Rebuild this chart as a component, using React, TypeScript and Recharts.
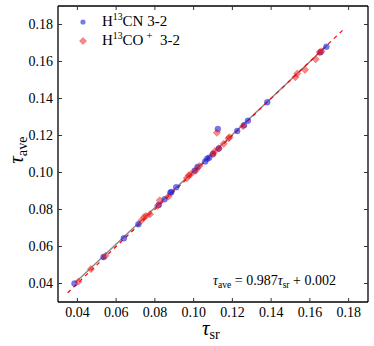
import { ScatterChart, Scatter, XAxis, YAxis, ReferenceLine } from "recharts"

// H13CN 3-2 (blue circles)
const hcnSr = [0.0385, 0.0535, 0.064, 0.0715, 0.082, 0.085, 0.088, 0.0885, 0.091, 0.1005, 0.102, 0.106, 0.107, 0.108, 0.11, 0.1125, 0.113, 0.1225, 0.126, 0.128, 0.138, 0.1655, 0.1685]
const hcnAve = [0.04, 0.0543, 0.0645, 0.072, 0.0825, 0.0855, 0.089, 0.0895, 0.092, 0.101, 0.103, 0.106, 0.1075, 0.108, 0.11, 0.1235, 0.113, 0.1225, 0.1255, 0.128, 0.138, 0.165, 0.168]

// H13CO+ 3-2 (red diamonds)
const hcoSr = [0.0405, 0.047, 0.0545, 0.073, 0.0745, 0.0755, 0.0775, 0.0815, 0.0825, 0.087, 0.0965, 0.0975, 0.0985, 0.101, 0.103, 0.11, 0.111, 0.112, 0.113, 0.1155, 0.118, 0.1185, 0.1255, 0.1525, 0.1535, 0.1575, 0.163, 0.165, 0.166]
const hcoAve = [0.041, 0.0478, 0.055, 0.074, 0.076, 0.0765, 0.0775, 0.082, 0.085, 0.087, 0.097, 0.0985, 0.099, 0.101, 0.1035, 0.11, 0.1115, 0.1215, 0.113, 0.1155, 0.1185, 0.119, 0.125, 0.1515, 0.1535, 0.1555, 0.1612, 0.165, 0.1655]

// fit line (grey) and one-to-one line (red dashed), endpoints
const fitSr = [0.039, 0.169]
const fitAve = [0.0405, 0.1688]
const unitLine = [0.035, 0.178]

const ticks = [0.04, 0.06, 0.08, 0.1, 0.12, 0.14, 0.16, 0.18]
const domain: [number, number] = [0.03, 0.19]

const hcn = hcnSr.map((x, i) => ({ x, y: hcnAve[i] }))
const hco = hcoSr.map((x, i) => ({ x, y: hcoAve[i] }))

const serif = "Liberation Serif, serif"
const tickFont = { fontFamily: serif, fontSize: 14, fill: "#000" }
const fmt = (v: number) => v.toFixed(2)
const frame = { stroke: "#000", strokeWidth: 1.3 }
const tickStroke = { stroke: "#333" }

const Dot = (props: any) => (
  <circle cx={props.cx} cy={props.cy} r={3} fill="#2020e0" fillOpacity={0.6} stroke="#2020c0" strokeOpacity={0.4} strokeWidth={0.6} />
)

const Diamond = (props: any) => {
  const { cx, cy } = props
  const s = 3.6
  return (
    <polygon
      points={`${cx},${cy - s} ${cx + s},${cy} ${cx},${cy + s} ${cx - s},${cy}`}
      fill="#ff1010"
      fillOpacity={0.5}
      stroke="#b00000"
      strokeOpacity={0.45}
      strokeWidth={0.6}
    />
  )
}

const Nothing = () => <g />

const sub = { fontSize: "0.68em", fontStyle: "normal", verticalAlign: "-0.3em", lineHeight: 0 } as const

export default function App() {
  return (
    <div style={{ position: "absolute", left: 0, top: 0, width: 374, height: 346, background: "#fff" }}>
      <ScatterChart width={374} height={346} margin={{ top: 1, right: 1, left: 0, bottom: 0 }}>
        <XAxis
          xAxisId="b"
          type="number"
          dataKey="x"
          domain={domain}
          ticks={ticks}
          tickFormatter={fmt}
          height={44}
          tickSize={-4}
          tickMargin={9}
          tick={tickFont}
          axisLine={frame}
          tickLine={tickStroke}
          allowDataOverflow
        />
        <XAxis
          xAxisId="t"
          orientation="top"
          type="number"
          dataKey="x"
          domain={domain}
          ticks={ticks}
          height={5}
          tickSize={-4}
          tick={Nothing}
          axisLine={frame}
          tickLine={tickStroke}
          allowDataOverflow
        />
        <YAxis
          yAxisId="l"
          type="number"
          dataKey="y"
          domain={domain}
          ticks={ticks}
          tickFormatter={fmt}
          width={58}
          tickSize={-4}
          tickMargin={9}
          tick={tickFont}
          axisLine={frame}
          tickLine={tickStroke}
          allowDataOverflow
        />
        <YAxis
          yAxisId="r"
          orientation="right"
          type="number"
          dataKey="y"
          domain={domain}
          ticks={ticks}
          width={5}
          tickSize={-4}
          tick={Nothing}
          axisLine={frame}
          tickLine={tickStroke}
          allowDataOverflow
        />
        {/* invisible series so the top / right frame axes get drawn */}
        <Scatter xAxisId="t" yAxisId="r" data={hcn} shape={Nothing} isAnimationActive={false} />
        <ReferenceLine
          xAxisId="b"
          yAxisId="l"
          segment={[{ x: fitSr[0], y: fitAve[0] }, { x: fitSr[1], y: fitAve[1] }]}
          stroke="#888"
          strokeWidth={1.5}
        />
        <Scatter xAxisId="b" yAxisId="l" data={hcn} shape={Dot} isAnimationActive={false} />
        <Scatter xAxisId="b" yAxisId="l" data={hco} shape={Diamond} isAnimationActive={false} />
        <ReferenceLine
          xAxisId="b"
          yAxisId="l"
          segment={[{ x: unitLine[0], y: unitLine[0] }, { x: unitLine[1], y: unitLine[1] }]}
          stroke="#ff0000"
          strokeWidth={1.2}
          strokeDasharray="4 4"
        />
      </ScatterChart>

      {/* legend */}
      <div style={{ position: "absolute", left: 76, top: 12, fontFamily: serif, fontSize: 15, lineHeight: "19px", color: "#000" }}>
        <div style={{ display: "flex", alignItems: "center" }}>
          <svg width={14} height={19}>
            <circle cx={7} cy={10} r={2.6} fill="#2020e0" fillOpacity={0.6} />
          </svg>
          <span style={{ marginLeft: 12 }}>
            H<sup style={{ fontSize: "0.65em", lineHeight: 0 }}>13</sup>CN 3-2
          </span>
        </div>
        <div style={{ display: "flex", alignItems: "center" }}>
          <svg width={14} height={19}>
            <polygon points="7,6.5 10.5,10 7,13.5 3.5,10" fill="#ff1010" fillOpacity={0.5} stroke="#b00000" strokeOpacity={0.45} strokeWidth={0.6} />
          </svg>
          <span style={{ marginLeft: 12 }}>
            H<sup style={{ fontSize: "0.65em", lineHeight: 0 }}>13</sup>CO<sup style={{ fontSize: "0.75em", lineHeight: 0 }}> +</sup>&nbsp; 3-2
          </span>
        </div>
      </div>

      {/* fit annotation */}
      <div style={{ position: "absolute", left: 213, top: 273, fontFamily: serif, fontSize: 14, lineHeight: "16px", color: "#000", whiteSpace: "nowrap" }}>
        <i>τ</i>
        <span style={sub}>ave</span>
        {" = 0.987"}
        <i>τ</i>
        <span style={sub}>sr</span>
        {" + 0.002"}
      </div>

      {/* x label */}
      <div style={{ position: "absolute", left: 202, top: 319, fontFamily: serif, fontSize: 21, lineHeight: "18px", color: "#000", whiteSpace: "nowrap" }}>
        <i>τ</i>
        <span style={sub}>sr</span>
      </div>

      {/* y label */}
      <div
        style={{
          position: "absolute",
          left: 16,
          top: 150,
          fontFamily: serif,
          fontSize: 21,
          lineHeight: "21px",
          color: "#000",
          whiteSpace: "nowrap",
          transform: "translate(-50%, -50%) rotate(-90deg)",
        }}
      >
        <i>τ</i>
        <span style={sub}>ave</span>
      </div>
    </div>
  )
}
